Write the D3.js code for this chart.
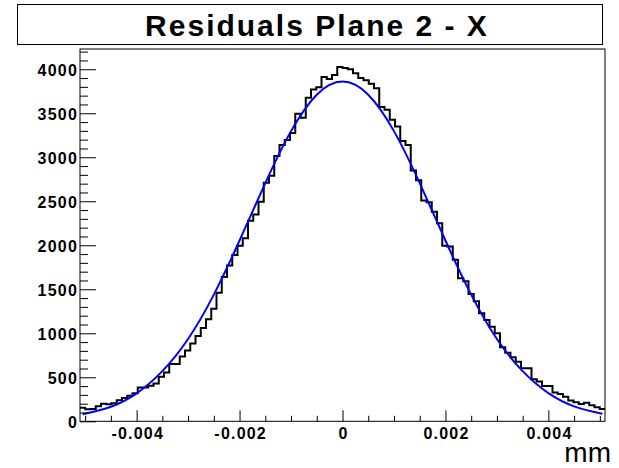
<!DOCTYPE html>
<html><head><meta charset="utf-8">
<script src="https://cdn.jsdelivr.net/npm/d3@7"></script>
<style>
html,body{margin:0;padding:0;background:#fff;}
svg{display:block;}
text{font-family:"Liberation Sans",Arial,sans-serif;}
</style></head>
<body>
<svg id="chart" width="619" height="468"></svg>
<script>
// ---- data ----
const title = "Residuals Plane 2 - X";
const xTitle = "mm";
const xMin = -0.0051, xMax = 0.0051, nBins = 100;
const binCounts = [
  155, 138, 140, 170, 200, 195, 205, 240, 265, 290,
  320, 385, 385, 405, 430, 505, 555, 650, 650, 735,
  805, 885, 970, 1060, 1160, 1280, 1460, 1640, 1770, 1890,
  1995, 2080, 2280, 2350, 2495, 2710, 2790, 3015, 3140, 3195,
  3275, 3495, 3450, 3675, 3770, 3795, 3912, 3890, 3935, 4025,
  4015, 4000, 3955, 3900, 3875, 3835, 3785, 3570, 3540, 3425,
  3350, 3185, 3140, 2850, 2740, 2510, 2490, 2380, 2250, 1995,
  1985, 1835, 1625, 1590, 1447, 1365, 1227, 1151, 1075, 1000,
  841, 780, 727, 678, 602, 602, 477, 451, 401, 401,
  326, 310, 280, 235, 216, 197, 212, 181, 159, 140
];
const fitX = [-0.00505, -0.0045, -0.004, -0.0035, -0.003, -0.0025, -0.002, -0.0015, -0.001, -0.0005, 0,
              0.0005, 0.001, 0.0015, 0.002, 0.0025, 0.003, 0.0035, 0.004, 0.0045, 0.00505];
const fitY = [80, 165, 318, 570, 935, 1439, 2054, 2707, 3297, 3711, 3860,
              3711, 3297, 2707, 2054, 1439, 935, 570, 320, 170, 85];
const xMajorTicks = [-0.004, -0.002, 0, 0.002, 0.004];
const xTickLabels = ["-0.004", "-0.002", "0", "0.002", "0.004"];
const xMinorTicks = [-0.005, -0.0045, -0.0035, -0.003, -0.0025, -0.0015, -0.001, -0.0005,
                     0.0005, 0.001, 0.0015, 0.0025, 0.003, 0.0035, 0.0045, 0.005];
const yMajorTicks = [0, 500, 1000, 1500, 2000, 2500, 3000, 3500, 4000];
const yTickLabels = ["0", "500", "1000", "1500", "2000", "2500", "3000", "3500", "4000"];
const yMinorTicks = [100, 200, 300, 400, 600, 700, 800, 900, 1100, 1200, 1300, 1400,
                     1600, 1700, 1800, 1900, 2100, 2200, 2300, 2400, 2600, 2700, 2800, 2900,
                     3100, 3200, 3300, 3400, 3600, 3700, 3800, 3900, 4100, 4200];
const yMaxDomain = 4230;

// ---- layout ----
const L = 80, R = 605, T = 49, B = 421.3;
const svg = d3.select("#chart");
const x = d3.scaleLinear().domain([xMin, xMax]).range([L, R]);
const y = d3.scaleLinear().domain([0, yMaxDomain]).range([B, T]);

// title box
svg.append("rect").attr("x", 17.5).attr("y", 4.5).attr("width", 585).attr("height", 40)
  .attr("fill", "#fff").attr("stroke", "#000").attr("stroke-width", 1);
svg.append("text").attr("x", 317).attr("y", 36).attr("text-anchor", "middle")
  .style("font-size", "30px").style("font-weight", "bold").style("letter-spacing", "2px")
  .text(title);

// clip
svg.append("clipPath").attr("id", "clip").append("rect")
  .attr("x", L).attr("y", T).attr("width", R - L).attr("height", B - T);

// histogram
const binW = (xMax - xMin) / nBins;
const pts = binCounts.map((v, i) => [xMin + i * binW, v]);
pts.push([xMax, binCounts[binCounts.length - 1]]);
const stepLine = d3.line().x(d => x(d[0])).y(d => y(d[1])).curve(d3.curveStepAfter);
svg.append("path").attr("d", stepLine(pts)).attr("fill", "none")
  .attr("stroke", "#000").attr("stroke-width", 2).attr("clip-path", "url(#clip)");

// fit
const fitLine = d3.line().x(d => x(d[0])).y(d => y(d[1])).curve(d3.curveNatural);
svg.append("path").attr("d", fitLine(fitX.map((v, i) => [v, fitY[i]]))).attr("fill", "none")
  .attr("stroke", "#0000ff").attr("stroke-width", 2).attr("clip-path", "url(#clip)");

// axes
const fontAxis = g => g.selectAll("text").style("font-size", "16px").style("font-weight", "bold")
  .style("letter-spacing", "1.2px").attr("fill", "#000").style("font-family", "'Liberation Sans',Arial,sans-serif");

const xAxisMajor = d3.axisBottom(x).tickValues(xMajorTicks).tickSize(-11).tickPadding(6.5)
  .tickFormat((d, i) => xTickLabels[i]);
const gx = svg.append("g").attr("transform", `translate(0,${B})`).call(xAxisMajor);
gx.select(".domain").remove();
gx.call(fontAxis);
gx.selectAll("text").attr("dx", "0.6px");
const xAxisMinor = d3.axisBottom(x).tickValues(xMinorTicks).tickSize(-5.5).tickFormat("");
const gx2 = svg.append("g").attr("transform", `translate(0,${B})`).call(xAxisMinor);
gx2.select(".domain").remove();

const yAxisMajor = d3.axisLeft(y).tickValues(yMajorTicks).tickSize(-16).tickPadding(2)
  .tickFormat((d, i) => yTickLabels[i]);
const gy = svg.append("g").attr("transform", `translate(${L},0)`).call(yAxisMajor);
gy.select(".domain").remove();
gy.call(fontAxis);
gy.selectAll("text").attr("dy", "0.38em");
const yAxisMinor = d3.axisLeft(y).tickValues(yMinorTicks).tickSize(-8).tickFormat("");
const gy2 = svg.append("g").attr("transform", `translate(${L},0)`).call(yAxisMinor);
gy2.select(".domain").remove();

svg.selectAll(".tick line").attr("stroke", "#000").attr("stroke-width", 1);

// frame
svg.append("rect").attr("x", L).attr("y", T).attr("width", R - L).attr("height", B - T)
  .attr("fill", "none").attr("stroke", "#000").attr("stroke-width", 1);

// x title
svg.append("text").attr("x", 611).attr("y", 461.5).attr("text-anchor", "end")
  .style("font-size", "28px").text(xTitle);
</script>
</body></html>
